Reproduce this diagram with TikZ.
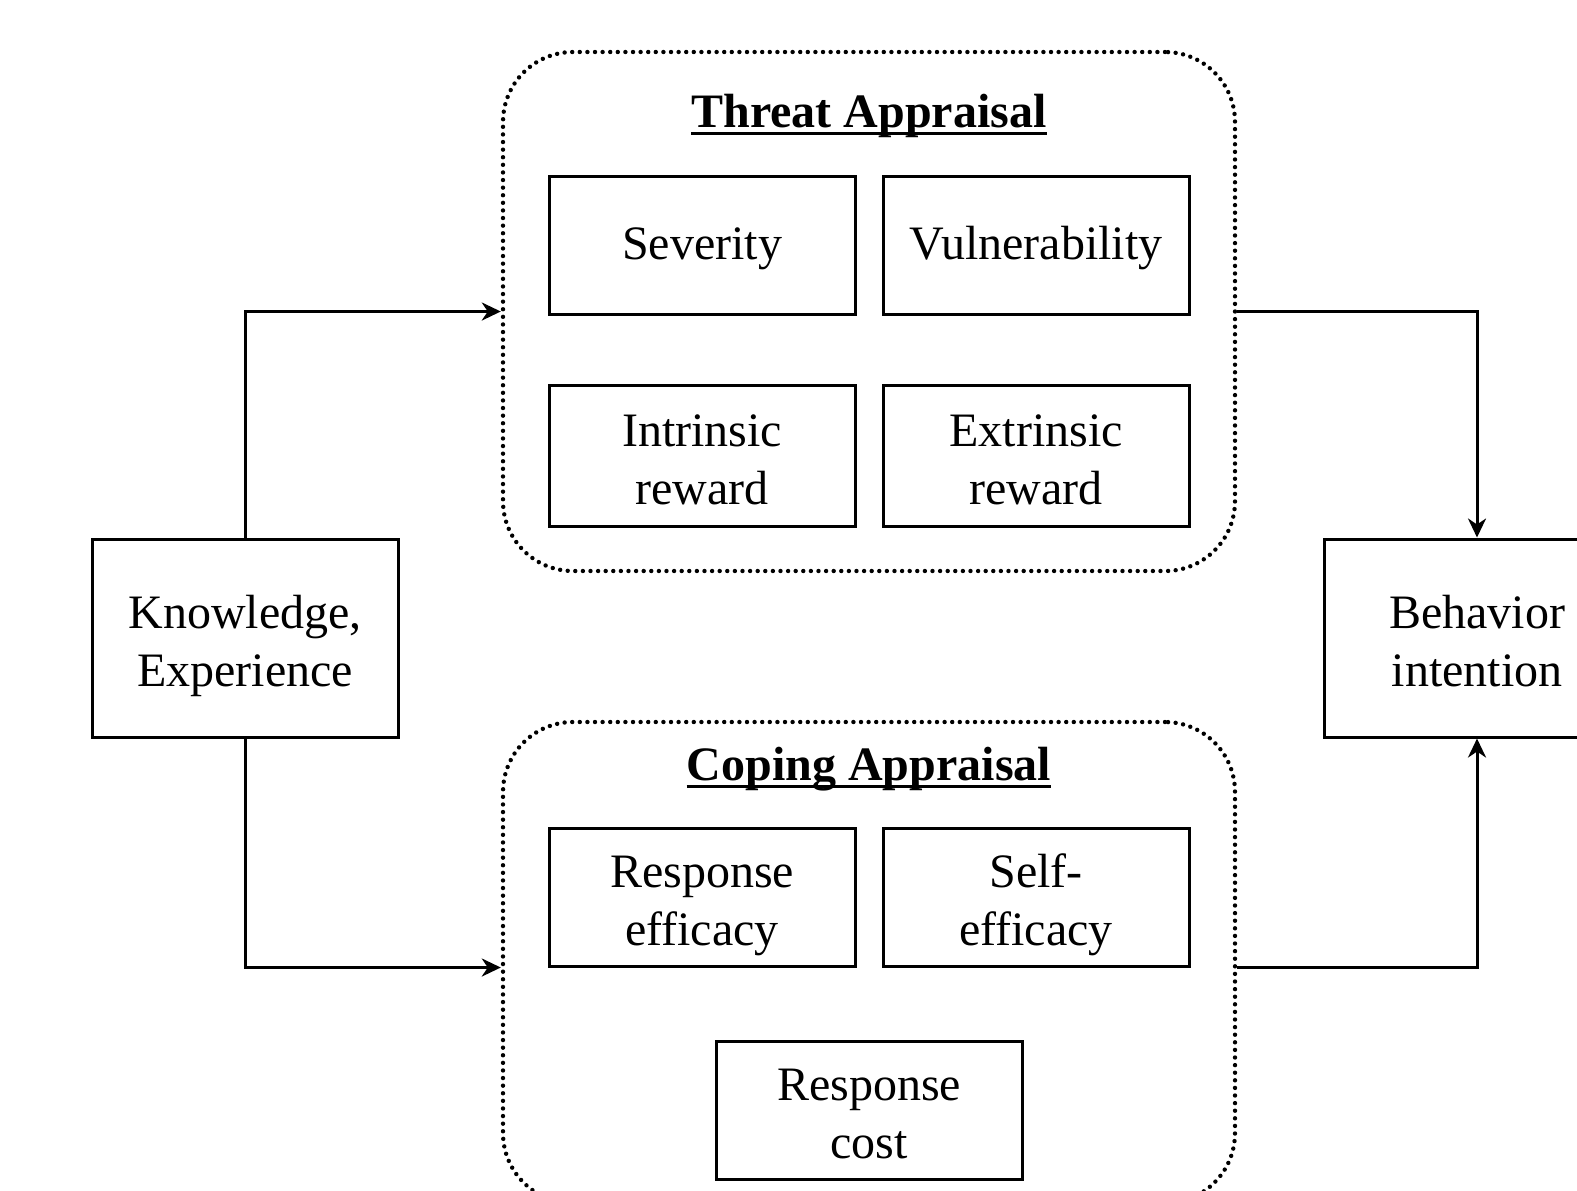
\documentclass[tikz,border=0pt]{standalone}
\usepackage{fontspec}
\setmainfont{Liberation Serif}
\usetikzlibrary{arrows.meta}
\begin{document}
\begin{tikzpicture}[x=0.5pt,y=-0.5pt,
  font=\fontsize{24}{29}\selectfont,
  box/.style={draw,line width=1.5pt,align=center,inner sep=0pt,
    minimum width=153pt},
  % fixed extents so every label sits at the same height in its box
  oneline/.style={text height=19pt,text depth=5pt},
  twoline/.style={text height=50pt,text depth=2pt},
  factor/.style={box,minimum height=69pt},
  outer/.style={box,twoline,minimum height=99pt},
  group/.style={draw,line width=2.2pt,line cap=round,
    dash pattern=on 0pt off 3.8pt,rounded corners=35pt,
    inner sep=0pt,minimum width=366pt},
  title/.style={font=\fontsize{24}{29}\selectfont\bfseries,inner sep=0pt},
  flow/.style={line width=1.5pt,-{Stealth[length=9.5pt,width=9pt,inset=3pt]}}]
\useasboundingbox (0,0) rectangle (1577,1190);
\clip (0,0) rectangle (1577,1190);
\fill[white] (0,0) rectangle (1577,1190);

% threat appraisal group
\node[group,minimum height=259.5pt] (threat) at (869,311.5) {};
\node[title] (ttitle) at (869,116) {Threat Appraisal};
\draw[line width=1.3pt] ([yshift=-3pt]ttitle.base west) -- ([yshift=-3pt]ttitle.base east);
\node[factor,oneline] (sev) at (702,245) {Severity};
\node[factor,oneline] (vul) at (1036,245) {Vulnerability};
\node[factor,twoline,minimum height=70.5pt] (intr) at (702,456) {Intrinsic\\reward};
\node[factor,twoline,minimum height=70.5pt] (extr) at (1036,456) {Extrinsic\\reward};

% coping appraisal group
\node[group,minimum height=240.5pt] (coping) at (869,962.5) {};
\node[title] (ctitle) at (869,769) {Coping Appraisal};
\draw[line width=1.3pt] ([yshift=-3pt]ctitle.base west) -- ([yshift=-3pt]ctitle.base east);
\node[factor,twoline] (resp) at (702,897) {Response\\efficacy};
\node[factor,twoline] (self) at (1036,897) {Self-\\efficacy};
\node[factor,twoline] (cost) at (869,1110) {Response\\cost};

% antecedent and outcome
\node[outer] (know) at (245,638) {Knowledge,\\Experience};
\node[outer] (beh) at (1477,638) {Behavior\\intention};

% connectors
\coordinate (cin) at (coping.west |- resp.south);
\coordinate (cout) at (coping.east |- self.south);
\draw[flow] (know.north) |- (threat.west);
\draw[flow] (know.south) |- (cin);
\draw[flow] (threat.east) -| (beh.north);
\draw[flow] (cout) -| (beh.south);
\end{tikzpicture}
\end{document}
